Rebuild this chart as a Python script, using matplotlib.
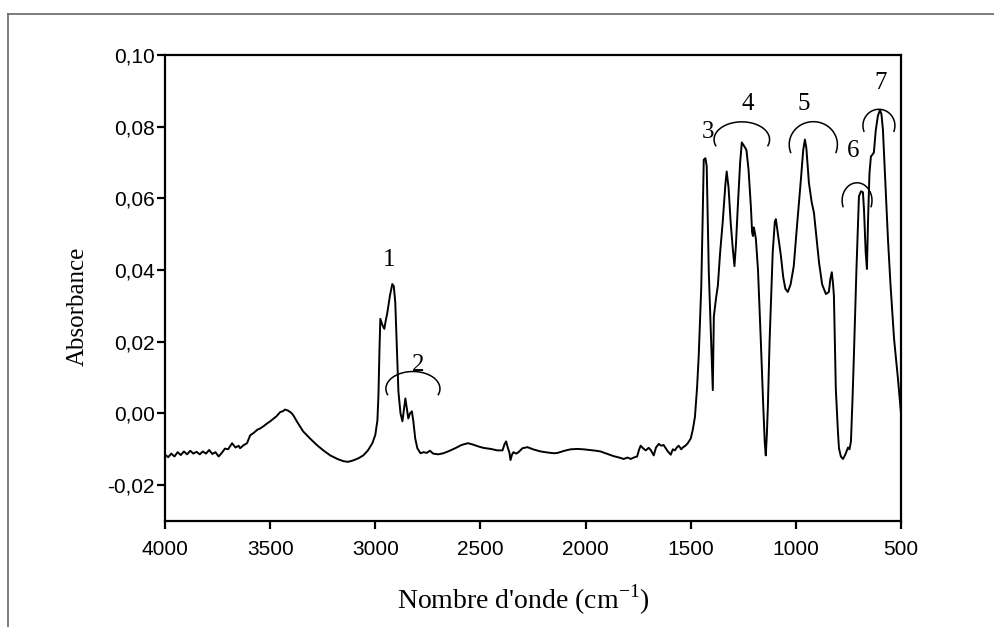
import matplotlib
matplotlib.use("Agg")
from matplotlib import pyplot as plt
from matplotlib.lines import Line2D
from matplotlib.ticker import FuncFormatter
import numpy as np

# spectrum (wavenumber cm-1, absorbance)
wavenumber = [
    4000, 3985, 3970, 3955, 3940, 3925, 3910, 3895, 3880, 3865, 3850, 3835, 3820, 3805,
    3790, 3775, 3760, 3745, 3730, 3715, 3700, 3681, 3665, 3650, 3643, 3625, 3610, 3595,
    3580, 3560, 3548, 3530, 3515, 3500, 3485, 3470, 3452, 3440, 3429, 3415, 3400, 3390,
    3370, 3343, 3310, 3276, 3245, 3214, 3180, 3152, 3130, 3105, 3080, 3057, 3035, 3014,
    3000, 2990, 2985, 2980, 2976, 2965, 2957, 2950, 2943, 2930, 2919, 2912, 2905, 2897,
    2890, 2880, 2871, 2864, 2857, 2850, 2843, 2835, 2826, 2819, 2810, 2800, 2785, 2770,
    2755, 2740, 2725, 2700, 2676, 2650, 2620, 2590, 2560, 2540, 2510, 2486, 2450, 2420,
    2395, 2385, 2378, 2370, 2362, 2357, 2350, 2343, 2330, 2319, 2300, 2276, 2250, 2214,
    2180, 2150, 2133, 2100, 2071, 2040, 2010, 1980, 1950, 1929, 1900, 1867, 1840, 1819,
    1800, 1785, 1771, 1755, 1745, 1738, 1725, 1714, 1700, 1690, 1676, 1665, 1652, 1640,
    1629, 1610, 1595, 1585, 1575, 1565, 1557, 1545, 1538, 1525, 1514, 1500, 1490, 1480,
    1470, 1462, 1450, 1443, 1438, 1430, 1424, 1414, 1400, 1395, 1390, 1380, 1371, 1360,
    1348, 1335, 1329, 1320, 1310, 1300, 1292, 1285, 1276, 1265, 1257, 1245, 1235, 1225,
    1214, 1208, 1204, 1200, 1195, 1190, 1180, 1167, 1155, 1148, 1143, 1138, 1133, 1125,
    1119, 1110, 1100, 1095, 1085, 1071, 1060, 1050, 1038, 1025, 1010, 995, 976, 965,
    957, 950, 938, 925, 914, 900, 890, 875, 857, 843, 836, 829, 823, 819,
    810, 800, 795, 786, 776, 765, 752, 745, 738, 730, 724, 712, 700, 690,
    681, 676, 668, 662, 657, 650, 643, 636, 629, 620, 610, 600, 593, 586,
    575, 562, 550, 533, 515, 500,
]
absorbance = [
    -0.0115, -0.0122, -0.0112, -0.0120, -0.0108, -0.0116, -0.0106, -0.0114, -0.0104, -0.0112, -0.0107, -0.0114, -0.0106, -0.0112,
    -0.0102, -0.0113, -0.0108, -0.0120, -0.0110, -0.0098, -0.0100, -0.0083, -0.0095, -0.0090, -0.0097, -0.0088, -0.0083, -0.0061,
    -0.0055, -0.0045, -0.0042, -0.0035, -0.0028, -0.0022, -0.0015, -0.0008, 0.0004, 0.0006, 0.0011, 0.0008, 0.0002, -0.0005,
    -0.0025, -0.0050, -0.0070, -0.0089, -0.0104, -0.0117, -0.0127, -0.0133, -0.0135, -0.0131, -0.0125, -0.0117, -0.0103, -0.0083,
    -0.0060, -0.0020, 0.0050, 0.0180, 0.0264, 0.0245, 0.0236, 0.0260, 0.0280, 0.0330, 0.0361, 0.0355, 0.0310, 0.0180,
    0.0061, 0.0000, -0.0022, 0.0010, 0.0042, 0.0015, -0.0014, 0.0000, 0.0006, -0.0022, -0.0070, -0.0097, -0.0111, -0.0108,
    -0.0110, -0.0104, -0.0112, -0.0114, -0.0111, -0.0105, -0.0097, -0.0088, -0.0083, -0.0086, -0.0092, -0.0096, -0.0099, -0.0103,
    -0.0103, -0.0085, -0.0078, -0.0095, -0.0110, -0.0130, -0.0115, -0.0108, -0.0112, -0.0108, -0.0097, -0.0094, -0.0100, -0.0106,
    -0.0109, -0.0111, -0.0110, -0.0104, -0.0100, -0.0099, -0.0100, -0.0102, -0.0104, -0.0106, -0.0112, -0.0119, -0.0123, -0.0127,
    -0.0123, -0.0127, -0.0123, -0.0120, -0.0100, -0.0090, -0.0098, -0.0103, -0.0096, -0.0102, -0.0117, -0.0095, -0.0085, -0.0090,
    -0.0088, -0.0105, -0.0115, -0.0100, -0.0103, -0.0094, -0.0090, -0.0100, -0.0095, -0.0090, -0.0083, -0.0070, -0.0045, -0.0010,
    0.0070, 0.0160, 0.0350, 0.0550, 0.0708, 0.0712, 0.0690, 0.0394, 0.0150, 0.0065, 0.0270, 0.0320, 0.0356, 0.0450,
    0.0533, 0.0640, 0.0675, 0.0630, 0.0533, 0.0460, 0.0411, 0.0470, 0.0578, 0.0700, 0.0756, 0.0745, 0.0735, 0.0680,
    0.0578, 0.0505, 0.0495, 0.0519, 0.0505, 0.0486, 0.0400, 0.0208, 0.0020, -0.0080, -0.0117, -0.0060, 0.0022, 0.0200,
    0.0300, 0.0450, 0.0535, 0.0542, 0.0500, 0.0439, 0.0380, 0.0348, 0.0339, 0.0360, 0.0411, 0.0520, 0.0653, 0.0735,
    0.0764, 0.0740, 0.0644, 0.0590, 0.0560, 0.0480, 0.0422, 0.0360, 0.0333, 0.0339, 0.0375, 0.0394, 0.0360, 0.0328,
    0.0069, -0.0050, -0.0097, -0.0120, -0.0127, -0.0115, -0.0095, -0.0100, -0.0078, 0.0050, 0.0161, 0.0400, 0.0606, 0.0620,
    0.0617, 0.0569, 0.0450, 0.0403, 0.0533, 0.0670, 0.0717, 0.0722, 0.0728, 0.0790, 0.0830, 0.0847, 0.0835, 0.0792,
    0.0650, 0.0486, 0.0360, 0.0208, 0.0100, 0.0000,
]

# band labels and the arcs drawn over them
band_labels = ["1", "2", "3", "4", "5", "6", "7"]
band_x = [2933, 2795, 1419, 1229, 962, 729, 595]
band_y = [0.0428, 0.0136, 0.0786, 0.0864, 0.0864, 0.0731, 0.0922]
arc_x = [2821, 1257, 917, 709, 605]
arc_y = [0.0069, 0.0764, 0.0750, 0.0594, 0.0803]
arc_w = [257, 264, 229, 142, 152]
arc_h = [0.0096, 0.0099, 0.0128, 0.0099, 0.0091]

fig = plt.figure(figsize=(9.95, 6.27), dpi=100)
ax = fig.add_axes([165 / 995, 1 - 521 / 627, 736 / 995, 466 / 627])

ax.plot(wavenumber, absorbance, color="black", lw=1.4)

# open arcs (upper part of an ellipse, ends hanging a bit below the centre)
t = np.radians(np.linspace(-20, 200, 80))
for cx, cy, w, h in zip(arc_x, arc_y, arc_w, arc_h):
    ax.plot(cx + w / 2 * np.cos(t), cy + h / 2 * np.sin(t), color="black", lw=1.1)

for lab, x, y in zip(band_labels, band_x, band_y):
    ax.text(x, y, lab, fontsize=18, family="Liberation Serif", ha="center", va="center")

ax.set_xlim(4000, 500)
ax.set_ylim(-0.03, 0.10)
ax.set_xticks([4000, 3500, 3000, 2500, 2000, 1500, 1000, 500])
ax.set_yticks([-0.02, 0.00, 0.02, 0.04, 0.06, 0.08, 0.10])
ax.yaxis.set_major_formatter(FuncFormatter(lambda v, p: f"{v:.2f}".replace(".", ",")))

for s in ax.spines.values():
    s.set_linewidth(1.6)
ax.tick_params(direction="out", length=6, width=1.6, labelsize=15)
ax.tick_params(axis="y", pad=1.5)
ax.tick_params(axis="x", pad=8)
for lbl in ax.get_xticklabels() + ax.get_yticklabels():
    lbl.set_family("Liberation Sans")

fig.text(78 / 995, 1 - 306 / 627, "Absorbance", rotation=90, fontsize=18,
         family="Liberation Serif", ha="center", va="center")
fig.text(523 / 995, 1 - 600 / 627, "Nombre d'onde (cm$^{\\mathregular{-1}}$)", fontsize=20,
         family="Liberation Serif", ha="center", va="center")

# outer frame (top and left edges)
fig.add_artist(Line2D([8 / 995, 1], [1 - 14 / 627, 1 - 14 / 627], color="#666666", lw=1.2))
fig.add_artist(Line2D([8 / 995, 8 / 995], [0, 1 - 14 / 627], color="#666666", lw=1.2))

fig.savefig("out.png", dpi=100)
